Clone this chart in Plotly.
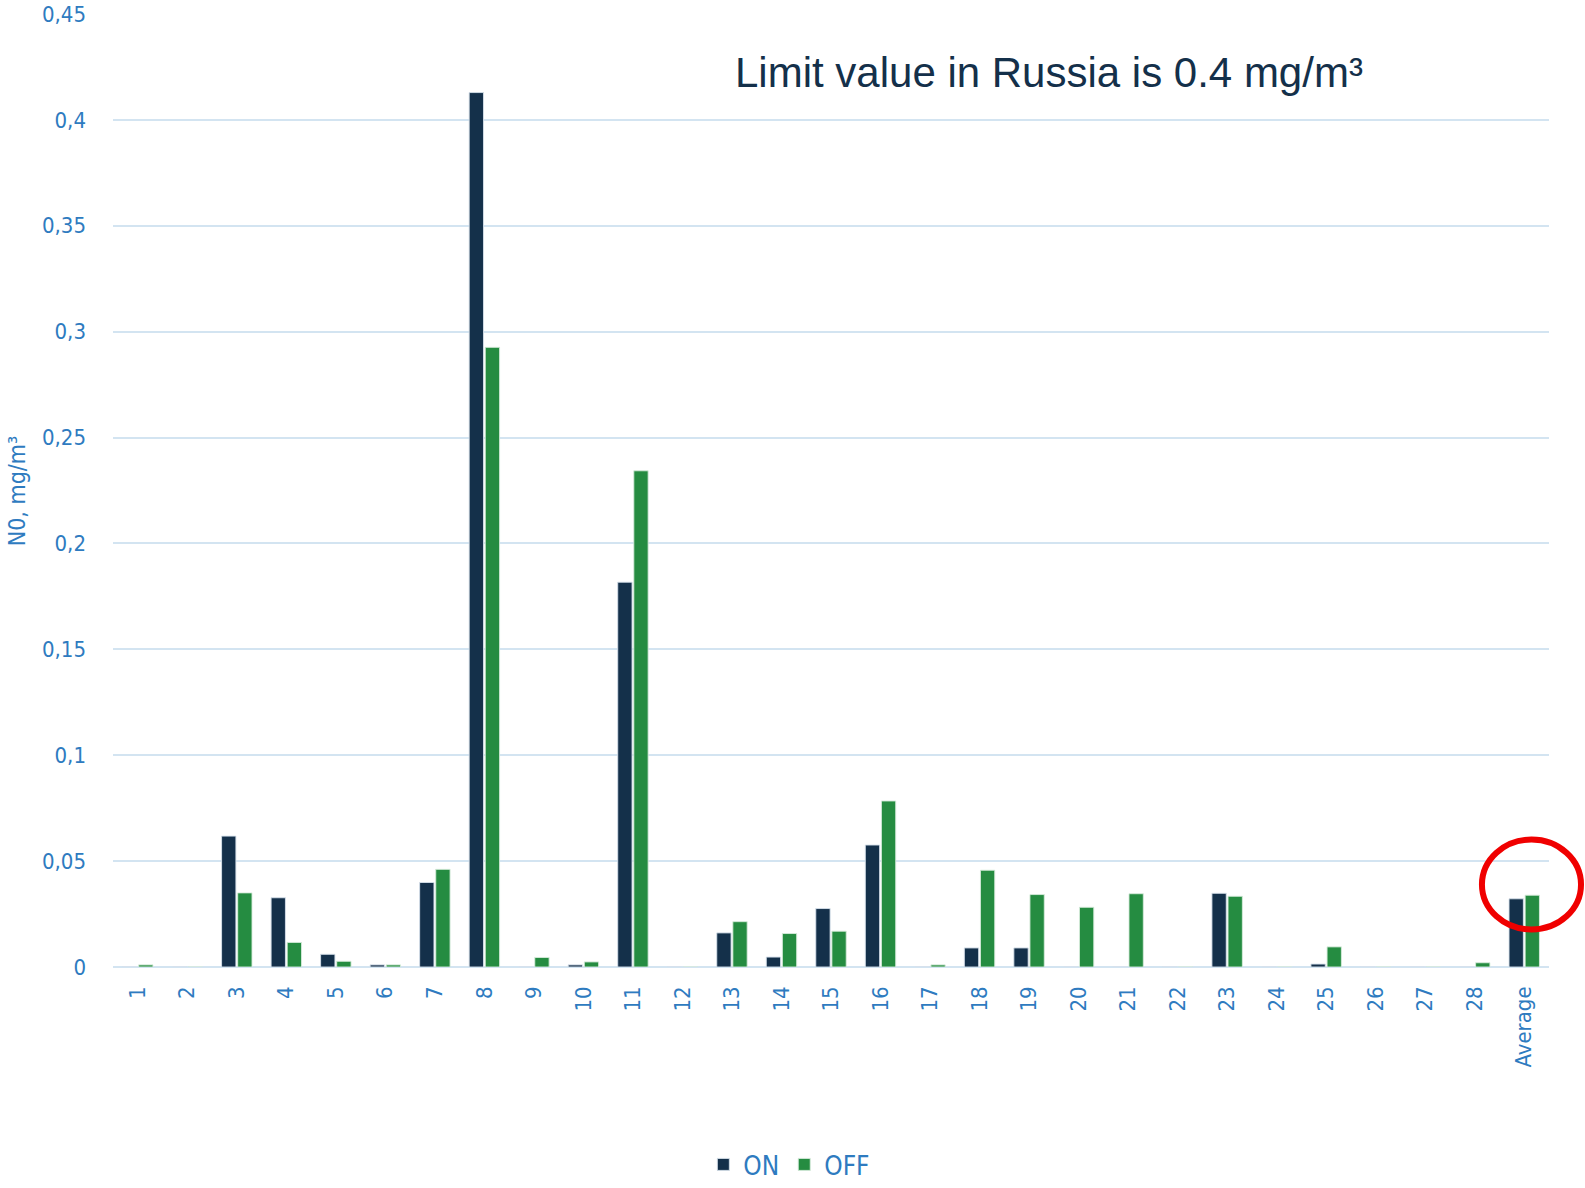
import plotly.graph_objects as go

# NO concentration per measurement point, with the fan on and off
categories = [str(i) for i in range(1, 29)] + ["Average"]
no_on = [0, 0, 0.0618, 0.0327, 0.0060, 0.0010, 0.0399, 0.4129, 0, 0.0010,
         0.1817, 0, 0.0161, 0.0047, 0.0276, 0.0576, 0, 0.0090, 0.0090, 0,
         0, 0, 0.0348, 0, 0.0014, 0, 0, 0, 0.0322]
no_off = [0.0010, 0, 0.0350, 0.0116, 0.0027, 0.0010, 0.0461, 0.2926, 0.0045, 0.0024,
          0.2343, 0, 0.0214, 0.0158, 0.0169, 0.0784, 0.0010, 0.0457, 0.0342, 0.0282,
          0.0346, 0, 0.0334, 0, 0.0095, 0, 0, 0.0020, 0.0339]
y_ticks = [0, 0.05, 0.1, 0.15, 0.2, 0.25, 0.3, 0.35, 0.4, 0.45]
y_tick_text = ["0", "0,05", "0,1", "0,15", "0,2", "0,25", "0,3", "0,35", "0,4", "0,45"]

NAVY = "#14304A"
GREEN = "#258C41"
BLUE_TEXT = "#2E7BC0"
GRID = "#D3E4F1"
FONT = "Liberation Sans Narrow, DejaVu Sans Condensed, Roboto Condensed, Roboto, sans-serif"

fig = go.Figure()
fig.add_trace(go.Bar(x=categories, y=no_on, name="ON",
                     marker=dict(color=NAVY, line=dict(color="rgba(215,225,235,0.9)", width=1))))
fig.add_trace(go.Bar(x=categories, y=no_off, name="OFF",
                     marker=dict(color=GREEN, line=dict(color="rgba(215,235,220,0.9)", width=1))))

fig.update_layout(
    width=1585, height=1188,
    margin=dict(l=113, r=36, t=14, b=221, autoexpand=False),
    paper_bgcolor="white", plot_bgcolor="white",
    barmode="group", bargap=0.35, bargroupgap=0.11,
    font=dict(family=FONT, color=BLUE_TEXT, size=20),
    showlegend=True,
    legend=dict(orientation="h", xref="container", yref="container",
                x=0.498, xanchor="center", y=0.0, yanchor="bottom",
                font=dict(family=FONT, size=26, color=BLUE_TEXT),
                itemwidth=30, traceorder="normal"),
    xaxis=dict(type="category", tickangle=-90, showgrid=False, showline=False,
               tickfont=dict(family=FONT, size=22, color=BLUE_TEXT),
               ticklabelstandoff=14, zeroline=False, automargin=False),
    yaxis=dict(range=[0, 0.45], tickvals=y_ticks, ticktext=y_tick_text,
               showgrid=True, gridcolor=GRID, gridwidth=2,
               zeroline=True, zerolinecolor=GRID, zerolinewidth=2,
               showline=False, ticklabelstandoff=26, automargin=False,
               tickfont=dict(family=FONT, size=22, color=BLUE_TEXT)),
)

# axis title placed as rotated text at the left edge
fig.add_annotation(text="N0, mg/m³", xref="paper", yref="paper",
                   x=-0.067, y=0.5, textangle=-90, showarrow=False,
                   xanchor="center", yanchor="middle",
                   font=dict(family=FONT, size=23, color=BLUE_TEXT))

# heading about the Russian limit value
fig.add_annotation(text="Limit value in Russia is 0.4 mg/m³", xref="paper", yref="paper",
                   x=0.652, y=0.9385, showarrow=False, xanchor="center", yanchor="middle",
                   font=dict(family="Liberation Sans, Arial, sans-serif", size=42, color=NAVY))

# red ring around the average bars
fig.add_shape(type="circle", xref="x domain", yref="y domain",
              x0=0.9533, x1=1.0223, y0=0.0394, y1=0.1338,
              line=dict(color="#F00000", width=6))

fig.write_html("out.html")
